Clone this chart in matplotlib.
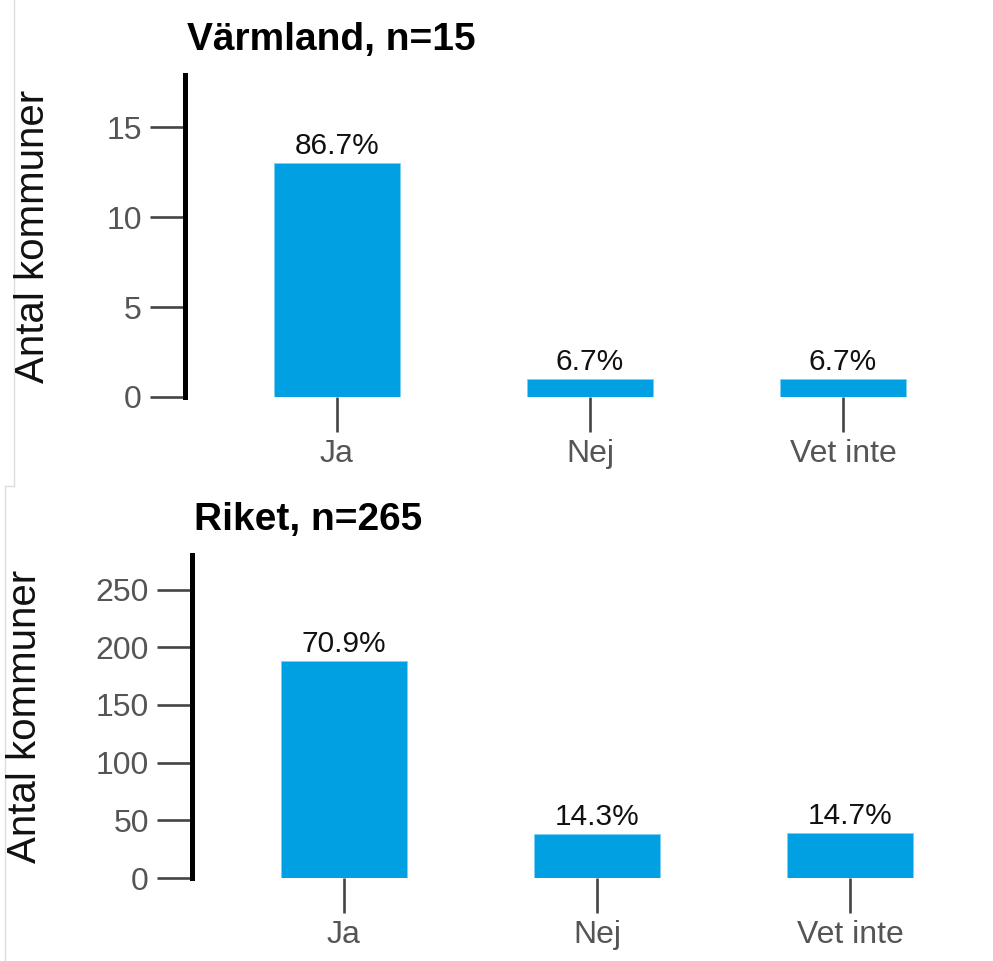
import matplotlib
matplotlib.use("Agg")
import matplotlib.pyplot as plt
from matplotlib.lines import Line2D

plt.rcParams['font.family'] = ['Liberation Sans', 'DejaVu Sans']

# svarsalternativ och antal kommuner per panel
kategorier = ["Ja", "Nej", "Vet inte"]
varmland_antal = [13, 1, 1]
varmland_andel = ["86.7%", "6.7%", "6.7%"]
riket_antal = [188, 38, 39]
riket_andel = ["70.9%", "14.3%", "14.7%"]

BLA = "#00A0E2"
W, H = 993, 961

fig = plt.figure(figsize=(W / 100, H / 100), dpi=100)


def panel(rect, antal, andel, titel, ymax, yticks, ylabel_x, titel_y):
    # rect i pixlar: vänster, nederkant (0 uppe), höjd
    left, bottom, height = rect
    ax = fig.add_axes([left / W, 1 - bottom / H, 810 / W, height / H])
    x = range(len(kategorier))
    bars = ax.bar(x, antal, width=0.5, color=BLA, edgecolor="#7fd0f0", linewidth=0.6)
    for b, txt in zip(bars, andel):
        ax.annotate(txt, (b.get_x() + b.get_width() / 2, b.get_height()),
                    xytext=(0, 2), textcoords="offset points",
                    ha="center", va="bottom", fontsize=21.5, color="#111111")
    ax.set_xlim(-0.6, 2.6)
    ax.set_ylim(0, ymax)
    ax.set_xticks(list(x))
    ax.set_xticklabels(kategorier)
    ax.set_yticks(yticks)
    for s in ["top", "right", "bottom"]:
        ax.spines[s].set_visible(False)
    ax.spines["left"].set_linewidth(3.6)
    ax.spines["left"].set_color("black")
    ax.tick_params(axis="both", length=25, width=1.9, color="#444444",
                   labelsize=23, labelcolor="#555555", pad=6)
    ax.tick_params(axis="x", pad=5)
    fig.text(ylabel_x / W, 1 - (bottom - height / 2) / H, "Antal kommuner",
             rotation=90, ha="center", va="center", fontsize=29, color="#111111")
    fig.text((left + 2) / W, 1 - titel_y / H, titel, ha="left", va="baseline",
             fontsize=28, fontweight="bold", color="black")
    return ax


panel((185, 397, 322), varmland_antal, varmland_andel, "Värmland, n=15",
      17.9, [0, 5, 10, 15], 33, 50)
panel((192, 878, 323), riket_antal, riket_andel, "Riket, n=265",
      280, [0, 50, 100, 150, 200, 250], 25, 530)

# tunna kantlinjer mellan de två delbilderna
grå = "#dddddd"
fig.add_artist(Line2D([14 / W, 14 / W], [1, 1 - 486 / H], color=grå, lw=1))
fig.add_artist(Line2D([5 / W, 14 / W], [1 - 486 / H, 1 - 486 / H], color=grå, lw=1))
fig.add_artist(Line2D([5 / W, 5 / W], [1 - 486 / H, 0], color=grå, lw=1))

fig.savefig("out.png", dpi=100, facecolor="white")
